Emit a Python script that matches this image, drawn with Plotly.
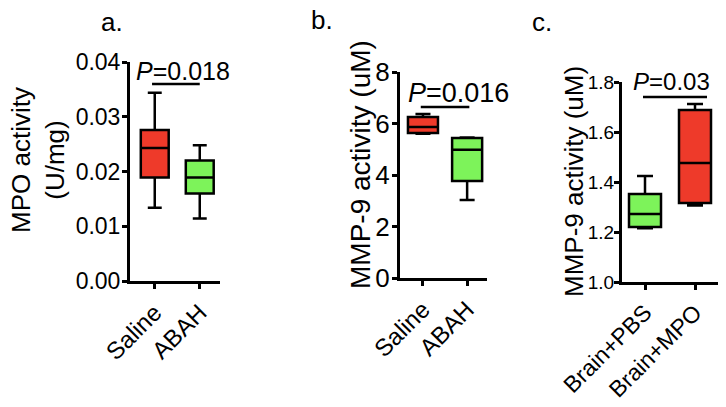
"""
Three box-plot panels: MPO activity and MMP-9 activity (Saline vs ABAH, Brain+PBS vs Brain+MPO).
"""

import plotly.graph_objects as go

RED = '#EE3A2A'
GREEN = '#7DF35A'
FONT = 'Liberation Sans, Arial, sans-serif'

# panel a: MPO activity (U/mg)
a_groups = ['Saline', 'ABAH']
a_low = [0.0134, 0.0114]
a_q1 = [0.0189, 0.0160]
a_med = [0.0243, 0.0189]
a_q3 = [0.0276, 0.0220]
a_high = [0.0344, 0.0248]

# panel b: MMP-9 activity (uM)
b_groups = ['Saline', 'ABAH']
b_low = [5.60, 3.03]
b_q1 = [5.63, 3.77]
b_med = [5.86, 4.98]
b_q3 = [6.25, 5.44]
b_high = [6.37, 5.46]

# panel c: MMP-9 activity (uM)
c_groups = ['Brain+PBS', 'Brain+MPO']
c_low = [1.215, 1.306]
c_q1 = [1.220, 1.316]
c_med = [1.272, 1.476]
c_q3 = [1.352, 1.688]
c_high = [1.424, 1.712]

# significance bars: (x from, x to, height, label)
a_sig = [-0.06, 1.0, 0.0360, '<i>P</i>=0.018']
b_sig = [-0.05, 1.05, 6.64, '<i>P</i>=0.016']
c_sig = [-0.04, 1.24, 1.74, '<i>P</i>=0.03']

colors_ab = [RED, GREEN]
colors_c = [GREEN, RED]

W, H = 726, 407


def px_x(x0, x1):
    return [x0 / W, x1 / W]


def px_y(top, bottom):
    return [1 - bottom / H, 1 - top / H]


fig = go.Figure()

panels = [
    ('x', 'y', a_groups, a_low, a_q1, a_med, a_q3, a_high, colors_ab, 0.62, a_sig),
    ('x2', 'y2', b_groups, b_low, b_q1, b_med, b_q3, b_high, colors_ab, 0.68, b_sig),
    ('x3', 'y3', c_groups, c_low, c_q1, c_med, c_q3, c_high, colors_c, 0.64, c_sig),
]

for xa, ya, groups, low, q1, med, q3, high, cols, bw, sig in panels:
    for i, g in enumerate(groups):
        fig.add_trace(
            go.Box(
                x=[i],
                lowerfence=[low[i]],
                q1=[q1[i]],
                median=[med[i]],
                q3=[q3[i]],
                upperfence=[high[i]],
                fillcolor=cols[i],
                line=dict(color='black', width=2.5),
                whiskerwidth=0.5,
                width=bw,
                boxpoints=False,
                hoverinfo='skip',
                showlegend=False,
                name=g,
                xaxis=xa,
                yaxis=ya,
            )
        )
    # the bar under the P value
    fig.add_trace(
        go.Scatter(
            x=[sig[0], sig[1]],
            y=[sig[2], sig[2]],
            mode='lines',
            line=dict(color='black', width=2.5),
            hoverinfo='skip',
            showlegend=False,
            xaxis=xa,
            yaxis=ya,
        )
    )

axis_common = dict(
    showline=True,
    linecolor='black',
    linewidth=3,
    ticks='outside',
    ticklen=5,
    tickwidth=2.5,
    tickcolor='black',
    showgrid=False,
    zeroline=False,
    fixedrange=True,
    automargin=False,
)

fig.update_layout(
    width=W,
    height=H,
    autosize=False,
    margin=dict(l=0, r=0, t=0, b=0, pad=0),
    paper_bgcolor='white',
    plot_bgcolor='white',
    boxmode='overlay',
    font=dict(family=FONT, color='black'),
    xaxis=dict(
        **axis_common, domain=px_x(130, 220), anchor='y',
        range=[-0.55, 1.45], tickvals=[0, 1], ticktext=a_groups,
        tickangle=-45, tickfont=dict(size=24),
    ),
    yaxis=dict(
        **axis_common, domain=px_y(62, 281), anchor='x', range=[0, 0.04],
        tickvals=[0, 0.01, 0.02, 0.03, 0.04], tickformat='.2f', tickfont=dict(size=23),
        ticklabelstandoff=-3,
    ),
    xaxis2=dict(
        **axis_common, domain=px_x(400, 487), anchor='y2',
        range=[-0.52, 1.45], tickvals=[0, 1], ticktext=b_groups,
        tickangle=-45, tickfont=dict(size=24),
    ),
    yaxis2=dict(
        **axis_common, domain=px_y(72, 278), anchor='x2', range=[0, 8],
        tickvals=[0, 2, 4, 6, 8], tickfont=dict(size=26),
        ticklabelstandoff=-3,
    ),
    xaxis3=dict(
        **axis_common, domain=px_x(622, 718), anchor='y3',
        range=[-0.46, 1.46], tickvals=[0, 1], ticktext=c_groups,
        tickangle=-45, tickfont=dict(size=23),
    ),
    yaxis3=dict(
        **axis_common, domain=px_y(82, 282), anchor='x3', range=[1.0, 1.8],
        tickvals=[1.0, 1.2, 1.4, 1.6, 1.8], tickformat='.1f', tickfont=dict(size=19),
        ticklabelstandoff=-4,
    ),
)


def note(text, px, py, size, angle=0):
    fig.add_annotation(text=text, x=px / W, y=1 - py / H, xref='paper', yref='paper',
                       xanchor='center', yanchor='middle', showarrow=False,
                       textangle=angle, font=dict(size=size))


# P values
note(a_sig[3], 183, 71, 25)
note(b_sig[3], 458, 93, 27)
note(c_sig[3], 671, 81, 24)

# panel letters
note('a.', 112, 22, 26)
note('b.', 322, 20, 26)
note('c.', 542, 22, 26)

# y-axis titles
note('MPO activity<br>(U/mg)', 38, 160, 26, -90)
note('MMP-9 activity (uM)', 360, 165, 28, -90)
note('MMP-9 activity (uM)', 574, 182, 26, -90)

fig.write_html(
    'out.html',
    config={'displayModeBar': False},
    post_script="document.body.style.margin='0px';",
)
